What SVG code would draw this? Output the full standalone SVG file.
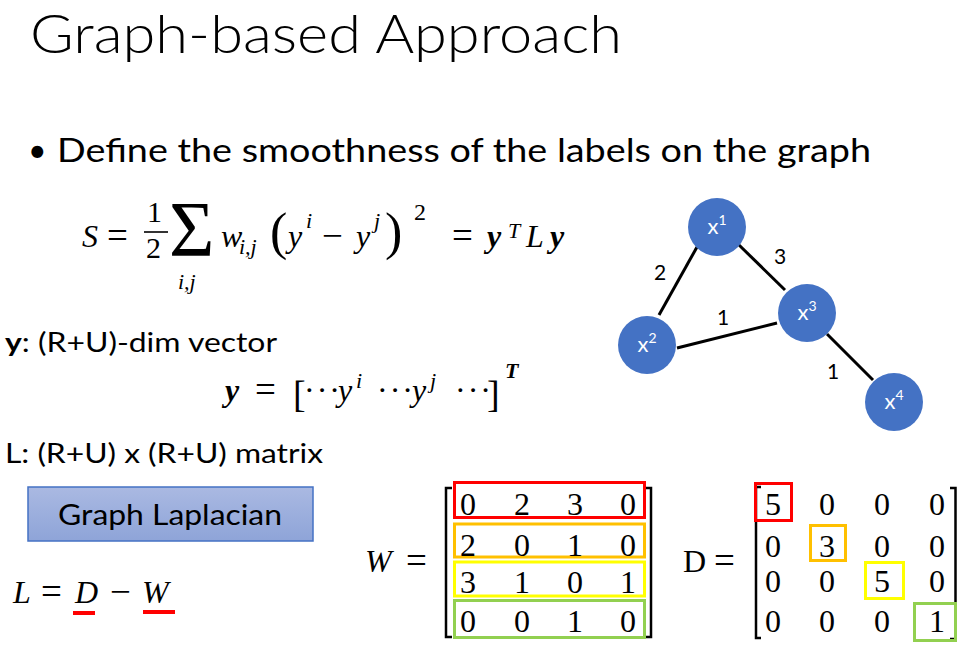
<svg xmlns="http://www.w3.org/2000/svg" width="977" height="650" viewBox="0 0 977 650">
<defs>
<linearGradient id="lapGrad" x1="0" y1="0" x2="0" y2="1">
<stop offset="0" stop-color="#aab9e2"/>
<stop offset="1" stop-color="#8ea4d8"/>
</linearGradient>
<style>
.sans{font-family:Lato,"Open Sans","Liberation Sans",sans-serif;fill:#000}
.m{font-family:"Liberation Serif","DejaVu Serif",serif;font-size:32px;fill:#000}
.op{font-size:37px}
.i{font-style:italic}
.b{font-weight:bold}
.sm{font-size:22px}
.num{font-family:"Liberation Serif","DejaVu Serif",serif;font-size:32px;text-anchor:middle;fill:#000}
.node{fill:#4472c4}
.nlab{font-family:Lato,"Open Sans","Liberation Sans",sans-serif;font-size:22px;fill:#fff;text-anchor:middle}
.elab{font-family:Lato,"Open Sans","Liberation Sans",sans-serif;font-size:21px;fill:#000;text-anchor:middle}
.edge{stroke:#000;stroke-width:3;fill:none}
.br{stroke:#000;stroke-width:2.5;fill:none}
.box{fill:none;stroke-width:3}
</style>
</defs>
<rect width="977" height="650" fill="#fff"/>

<!-- title -->
<text class="sans" x="30" y="53" font-size="54" font-weight="300" textLength="592" lengthAdjust="spacingAndGlyphs">Graph-based Approach</text>

<!-- bullet -->
<text class="sans" x="28" y="162" font-size="32">•</text>
<text class="sans" x="57" y="162" font-size="32" textLength="814" lengthAdjust="spacingAndGlyphs">Define the smoothness of the labels on the graph</text>

<!-- S equation -->
<g id="eq-S">
<text class="m i" x="82" y="247">S</text>
<text class="m op" x="107" y="248">=</text>
<text class="m" x="147" y="222" style="font-size:30px">1</text>
<line x1="144" y1="232" x2="168" y2="232" stroke="#000" stroke-width="1.6"/>
<text class="m" x="146" y="258" style="font-size:30px">2</text>
<text class="m" x="169" y="255" style="font-size:78px">Σ</text>
<text class="m i sm" x="178" y="289">i,j</text>
<text class="m i" x="221" y="247">w</text>
<text class="m i sm" x="239" y="254">i,j</text>
<text class="m" x="270" y="249" style="font-size:52px">(</text>
<text class="m i" x="288" y="247">y</text>
<text class="m i sm" x="306" y="228">i</text>
<text class="m op" x="322" y="248">−</text>
<text class="m i" x="356" y="247">y</text>
<text class="m i sm" x="374" y="228">j</text>
<text class="m" x="385" y="249" style="font-size:52px">)</text>
<text class="m" x="414" y="220" style="font-size:24px">2</text>
<text class="m op" x="452" y="248">=</text>
<text class="m i b" x="487" y="247">y</text>
<text class="m i sm" x="508" y="238">T</text>
<text class="m i" x="526" y="247">L</text>
<text class="m i b" x="550" y="247">y</text>
</g>

<!-- y description -->
<text class="sans" x="5" y="352" font-size="27" textLength="272" lengthAdjust="spacingAndGlyphs"><tspan font-weight="bold">y</tspan>: (R+U)-dim vector</text>

<g id="eq-y">
<text class="m i b" x="225" y="401">y</text>
<text class="m op" x="255" y="402">=</text>
<text class="m" x="293" y="407" style="font-size:38px">[</text>
<text class="m" x="304" y="401" letter-spacing="2">···</text>
<text class="m i" x="338" y="401">y</text>
<text class="m i sm" x="356" y="388">i</text>
<text class="m" x="377" y="401" letter-spacing="2">···</text>
<text class="m i" x="412" y="401">y</text>
<text class="m i sm" x="430" y="388">j</text>
<text class="m" x="455" y="401" letter-spacing="2">···</text>
<text class="m" x="487" y="407" style="font-size:38px">]</text>
<text class="m i b sm" x="505" y="378">T</text>
</g>

<text class="sans" x="5" y="463" font-size="27" textLength="318" lengthAdjust="spacingAndGlyphs">L: (R+U) x (R+U) matrix</text>

<!-- Graph Laplacian box -->
<g id="laplacian">
<rect x="28" y="487" width="285" height="54" fill="url(#lapGrad)" stroke="#4472c4" stroke-width="1.5"/>
<text class="sans" x="58" y="525" font-size="28" textLength="224" lengthAdjust="spacingAndGlyphs">Graph Laplacian</text>
</g>

<!-- L = D - W -->
<g id="eq-L">
<text class="m i" x="13" y="603">L</text>
<text class="m op" x="41" y="604">=</text>
<text class="m i" x="75" y="603">D</text>
<text class="m op" x="110" y="604">−</text>
<text class="m i" x="142" y="603">W</text>
<line x1="73" y1="613" x2="95" y2="613" stroke="#ff0000" stroke-width="4"/>
<line x1="143" y1="612" x2="175" y2="612" stroke="#ff0000" stroke-width="4"/>
</g>

<!-- W matrix -->
<g id="matrix-W">
<text class="m i" x="365" y="572">W</text>
<text class="m op" x="406" y="573">=</text>
<path class="br" d="M452,488 H446 V637 H452"/>
<path class="br" d="M645,488 H651 V637 H645"/>
<rect class="box" x="454.5" y="482.5" width="190" height="35" stroke="#ff0000"/>
<rect class="box" x="454.5" y="524" width="190" height="33" stroke="#ffc000"/>
<rect class="box" x="454.5" y="562" width="190" height="34" stroke="#ffff00"/>
<rect class="box" x="454.5" y="600.5" width="190" height="37" stroke="#92d050"/>
<text class="num" y="515"><tspan x="468">0</tspan><tspan x="522">2</tspan><tspan x="575">3</tspan><tspan x="628">0</tspan></text>
<text class="num" y="556"><tspan x="468">2</tspan><tspan x="522">0</tspan><tspan x="575">1</tspan><tspan x="628">0</tspan></text>
<text class="num" y="593"><tspan x="468">3</tspan><tspan x="522">1</tspan><tspan x="575">0</tspan><tspan x="628">1</tspan></text>
<text class="num" y="632"><tspan x="468">0</tspan><tspan x="522">0</tspan><tspan x="575">1</tspan><tspan x="628">0</tspan></text>
</g>

<!-- D matrix -->
<g id="matrix-D">
<text class="m" x="683" y="572">D</text>
<text class="m op" x="714" y="573">=</text>
<path class="br" d="M761,487 H756 V638 H761"/>
<path class="br" d="M950,488 H955.5 V639 H950"/>
<rect class="box" x="755.5" y="483.5" width="36" height="37" stroke="#ff0000"/>
<rect class="box" x="810.5" y="525.5" width="35" height="35" stroke="#ffc000"/>
<rect class="box" x="865.5" y="562.5" width="38" height="36" stroke="#ffff00"/>
<rect class="box" x="914.5" y="603.5" width="41" height="37" stroke="#92d050"/>
<text class="num" y="515"><tspan x="773">5</tspan><tspan x="827">0</tspan><tspan x="882">0</tspan><tspan x="937">0</tspan></text>
<text class="num" y="557"><tspan x="773">0</tspan><tspan x="827">3</tspan><tspan x="882">0</tspan><tspan x="937">0</tspan></text>
<text class="num" y="592"><tspan x="773">0</tspan><tspan x="827">0</tspan><tspan x="882">5</tspan><tspan x="937">0</tspan></text>
<text class="num" y="632"><tspan x="773">0</tspan><tspan x="827">0</tspan><tspan x="882">0</tspan><tspan x="937">1</tspan></text>
</g>

<!-- graph connectors -->
<g id="edges">
<line class="edge" x1="697" y1="247" x2="659" y2="315"/>
<line class="edge" x1="738" y1="244" x2="785" y2="290"/>
<line class="edge" x1="677" y1="348" x2="777" y2="323"/>
<line class="edge" x1="827" y1="334" x2="873" y2="380"/>
<text class="elab" x="660" y="280">2</text>
<text class="elab" x="780" y="264">3</text>
<text class="elab" x="723" y="325">1</text>
<text class="elab" x="833" y="379">1</text>
</g>

<!-- graph nodes -->
<g id="node-x1">
<circle class="node" cx="717" cy="227" r="29"/>
<text class="nlab" x="717" y="234">x<tspan font-size="14" dy="-9">1</tspan></text>
</g>
<g id="node-x2">
<circle class="node" cx="647" cy="345" r="29"/>
<text class="nlab" x="647" y="352">x<tspan font-size="14" dy="-9">2</tspan></text>
</g>
<g id="node-x3">
<circle class="node" cx="807" cy="313" r="29"/>
<text class="nlab" x="807" y="320">x<tspan font-size="14" dy="-9">3</tspan></text>
</g>
<g id="node-x4">
<circle class="node" cx="894" cy="402" r="29"/>
<text class="nlab" x="894" y="409">x<tspan font-size="14" dy="-9">4</tspan></text>
</g>
</svg>
